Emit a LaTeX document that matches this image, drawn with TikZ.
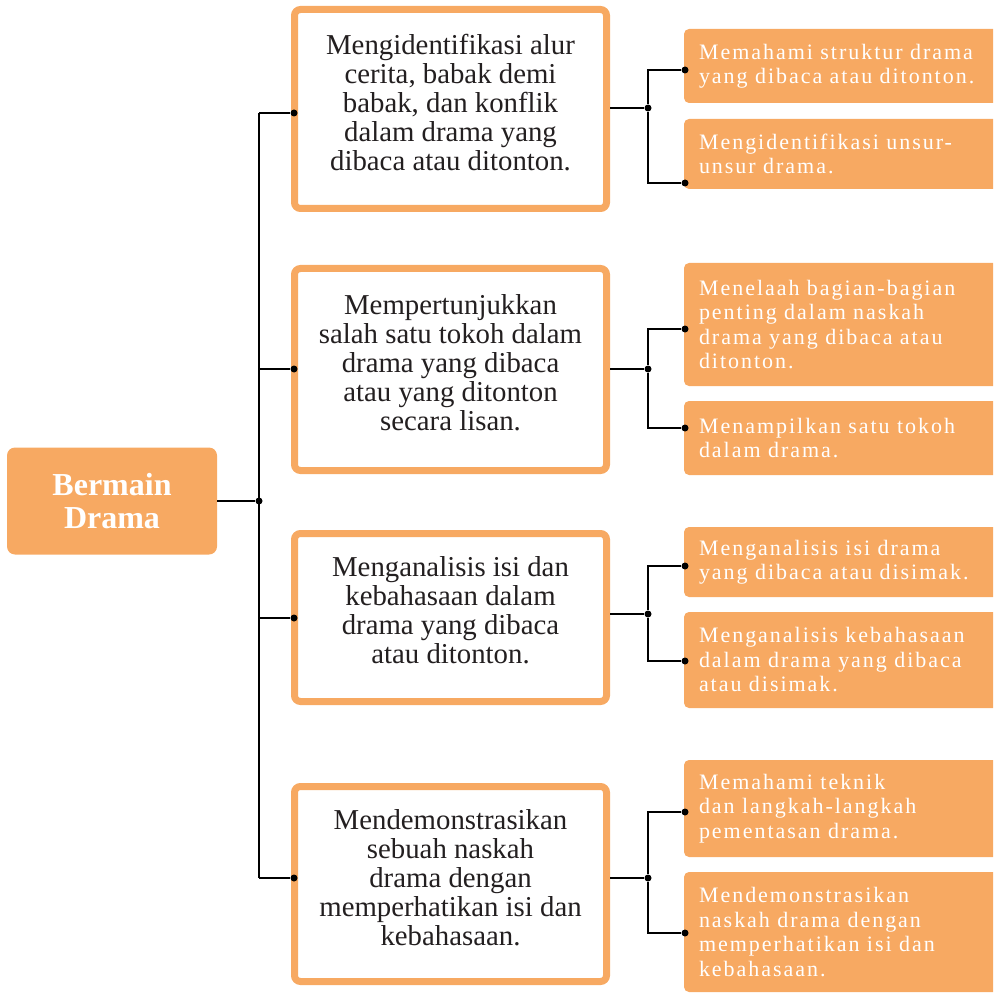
\documentclass[tikz,border=0pt]{standalone}
\usepackage{fontspec}
\usepackage{tikz}
\setmainfont{Liberation Serif}
\newfontfamily\renggang[LetterSpace=9]{Liberation Serif}

\definecolor{jingga}{HTML}{F7A962}
\definecolor{tinta}{HTML}{231F20}

\tikzset{
	akar/.style={fill=jingga, rounded corners=4pt, text=white, align=center,
		font=\fontsize{16}{16.5}\selectfont\bfseries,
		minimum width=105pt, minimum height=53.5pt},
	induk/.style={draw=jingga, line width=3.5pt, fill=white, rounded corners=3pt,
		text=tinta, align=center, font=\fontsize{14.4}{14.5}\selectfont,
		text depth=7pt, minimum width=156pt},
	anak/.style={fill=jingga, rounded corners=2.5pt, text=white, align=left,
		font=\renggang\fontsize{11}{12.25}\selectfont,
		text width=143pt, inner xsep=7.5pt},
	titik/.style={circle, fill=black, inner sep=0pt, minimum size=3.5pt},
	garis/.style={line width=1pt},
}

\begin{document}
\begin{tikzpicture}[x=0.5pt, y=-0.5pt]
		\useasboundingbox (0,0) rectangle (993,994);
		\clip (0,0) rectangle (993,994);

		% kotak utama
		\node[akar] (root) at (112,501) {Bermain\\Drama};

		% kotak tengah
		\node[induk, minimum height=99.5pt] (m1) at (450.5,109) {Mengidentifikasi alur\\cerita, babak demi\\babak, dan konflik\\dalam drama yang\\dibaca atau ditonton.};
		\node[induk, minimum height=101pt] (m2) at (450.5,369.5) {Mempertunjukkan\\salah satu tokoh dalam\\drama yang dibaca\\atau yang ditonton\\secara lisan.};
		\node[induk, minimum height=84pt] (m3) at (450.5,617.5) {Menganalisis isi dan\\kebahasaan dalam\\drama yang dibaca\\atau ditonton.};
		\node[induk, minimum height=97.5pt] (m4) at (450.5,884) {Mendemonstrasikan\\sebuah naskah\\drama dengan\\memperhatikan isi dan\\kebahasaan.};

		% kotak kanan
		\node[anak, minimum height=37pt] (a1) at (842,66) {Memahami struktur drama\\yang dibaca atau ditonton.};
		\node[anak, minimum height=35pt] (b1) at (842,154) {Mengidentifikasi unsur-\\unsur drama.};
		\node[anak, minimum height=61.5pt] (a2) at (842,324.5) {Menelaah bagian-bagian\\penting dalam naskah\\drama yang dibaca atau\\ditonton.};
		\node[anak, minimum height=37pt] (b2) at (842,438) {Menampilkan satu tokoh\\dalam drama.};
		\node[anak, minimum height=35pt] (a3) at (842,562) {Menganalisis isi drama\\yang dibaca atau disimak.};
		\node[anak, minimum height=48pt] (b3) at (842,660) {Menganalisis kebahasaan\\dalam drama yang dibaca\\atau disimak.};
		\node[anak, minimum height=48.5pt] (a4) at (842,808.5) {Memahami teknik\\dan langkah-langkah\\pementasan drama.};
		\node[anak, minimum height=60pt] (b4) at (842,932) {Mendemonstrasikan\\naskah drama dengan\\memperhatikan isi dan\\kebahasaan.};

		% titik sambung
		\node[titik] (pusat) at (259,501) {};
		\coordinate (s1) at (259,113);
		\coordinate (s2) at (259,369);
		\coordinate (s3) at (259,618);
		\coordinate (s4) at (259,878);
		\node[titik] (k1) at (294,113) {};
		\node[titik] (k2) at (294,369) {};
		\node[titik] (k3) at (294,618) {};
		\node[titik] (k4) at (294,878) {};
		\node[titik] (c1) at (648,108) {};
		\node[titik] (c2) at (648,369) {};
		\node[titik] (c3) at (648,614) {};
		\node[titik] (c4) at (648,878) {};
		\node[titik] (ta1) at (685,70) {};
		\node[titik] (tb1) at (685,183) {};
		\node[titik] (ta2) at (685,329) {};
		\node[titik] (tb2) at (685,428) {};
		\node[titik] (ta3) at (685,566) {};
		\node[titik] (tb3) at (685,661) {};
		\node[titik] (ta4) at (685,812) {};
		\node[titik] (tb4) at (685,933) {};

		% garis
		\draw[garis] (root.east |- pusat) -- (pusat);
		\draw[garis] (s1) -- (s4);
		\foreach \i in {1,...,4} {
			\draw[garis] (s\i) -- (k\i);
			\draw[garis] (m\i.east |- c\i) -- (c\i);
			\draw[garis] (ta\i) -| (c\i) |- (tb\i);
		}
	\end{tikzpicture}
\end{document}
